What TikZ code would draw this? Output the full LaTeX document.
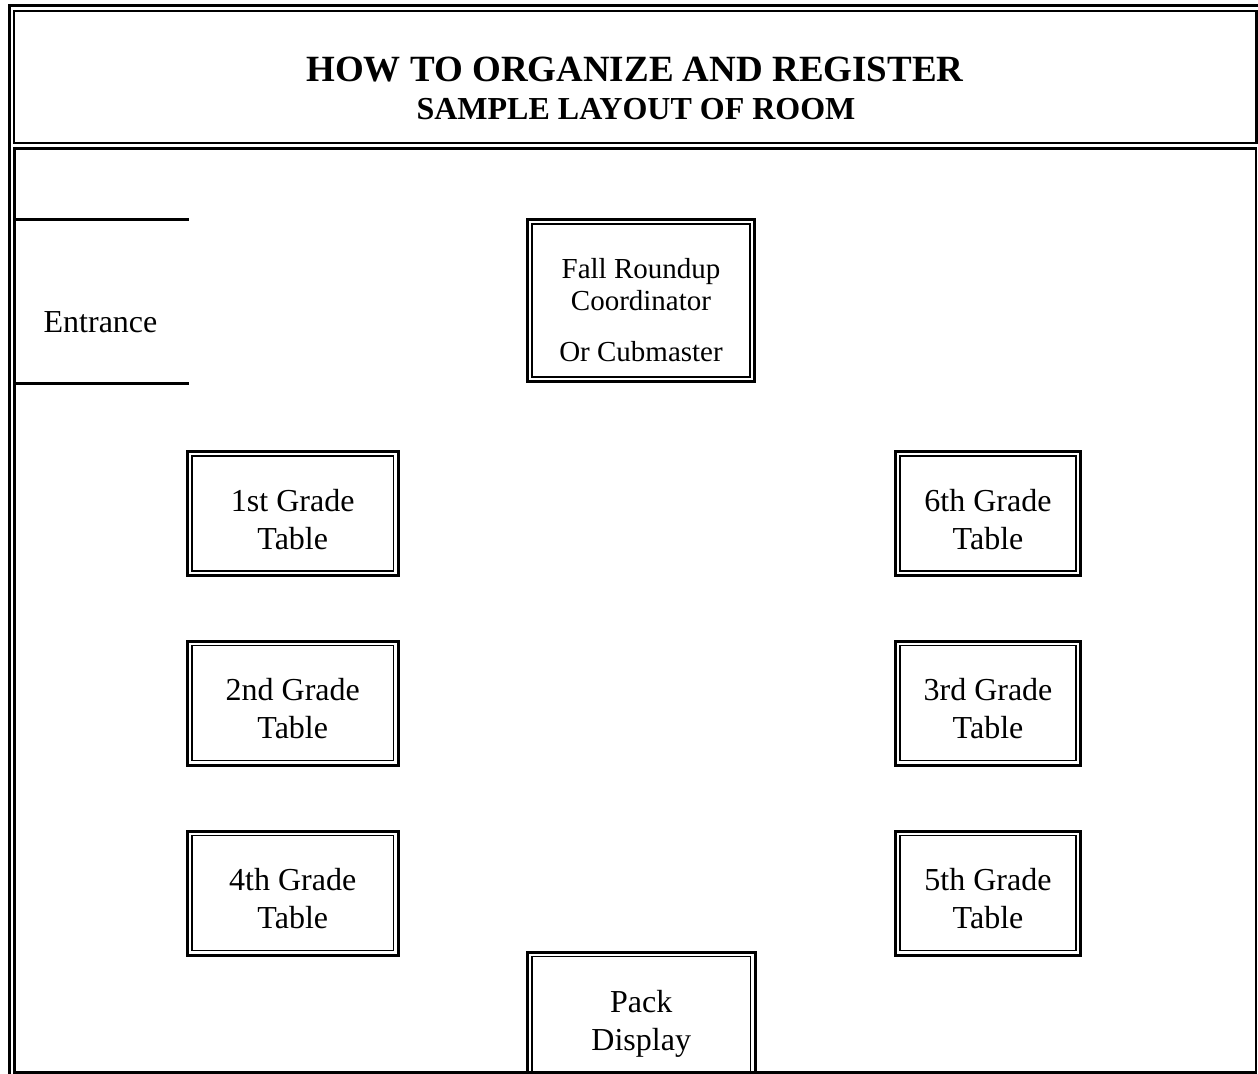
\documentclass[tikz,border=0pt]{standalone}
\usepackage{fontspec}
\setmainfont{Liberation Serif}
\usetikzlibrary{calc}
\newcommand{\gradelabel}[1]{\rule{0pt}{17pt}#1 Grade\\Table}
\tikzset{
  frameline/.style={line width=1.3pt},
  innerline/.style={line width=0.8pt},
  tablebox/.style={draw,line width=1.5pt,outer sep=0pt,inner sep=0pt,
    align=center,font=\fontsize{16}{19}\selectfont,minimum height=62pt},
  leftbox/.style={tablebox,minimum width=105.25pt},
  rightbox/.style={tablebox,minimum width=92.25pt}
}

\begin{document}
\begin{tikzpicture}[x=0.5pt,y=-0.5pt]
\useasboundingbox (0,0) rectangle (1258,1074);

% page edge
\draw[line width=1.5pt] (9.5,1074) -- (9.5,6) -- (1258,6);

% title box and room
\draw[frameline] (14,11) rectangle (1256.5,143);
\draw[frameline] (14.5,148.5) rectangle (1256,1072.5);

\node (title) at (635,70) {\fontsize{18.5}{22}\selectfont\bfseries HOW TO ORGANIZE AND REGISTER};
\node (subtitle) at (636,109) {\fontsize{16}{19}\selectfont\bfseries SAMPLE LAYOUT OF ROOM};

% entrance
\coordinate (doorA) at (14.5,219.5);
\coordinate (doorB) at (14.5,383.5);
\draw[line width=1.4pt] (doorA) -- ++(174.5,0);
\draw[line width=1.4pt] (doorB) -- ++(174.5,0);
\node[font=\fontsize{16}{19}\selectfont] (entrance) at (100.5,322) {Entrance};

% tables
\node[tablebox,minimum width=113.25pt,minimum height=81pt,font=\fontsize{14.5}{16}\selectfont]
  (coord) at (641,300.5) {\rule{0pt}{20pt}Fall Roundup\\Coordinator\\[9.5pt]Or Cubmaster};
\node[leftbox] (grade1) at (292.75,513.5) {\gradelabel{1st}};
\node[leftbox] (grade2) at (292.75,703) {\gradelabel{2nd}};
\node[leftbox] (grade4) at (292.75,893) {\gradelabel{4th}};
\node[rightbox] (grade6) at (988,513.5) {\gradelabel{6th}};
\node[rightbox] (grade3) at (988,703) {\gradelabel{3rd}};
\node[rightbox] (grade5) at (988,893) {\gradelabel{5th}};
\node[tablebox,minimum width=113.75pt,minimum height=66pt] (pack) at (641.25,1018) {\rule{0pt}{17pt}Pack\\Display};

\foreach \t in {coord,grade1,grade2,grade4,grade6,grade3,grade5,pack}
  \draw[innerline] ([shift={(4.5,4.5)}]\t.north west) rectangle ([shift={(-4.5,-4.5)}]\t.south east);

\end{tikzpicture}
\end{document}
